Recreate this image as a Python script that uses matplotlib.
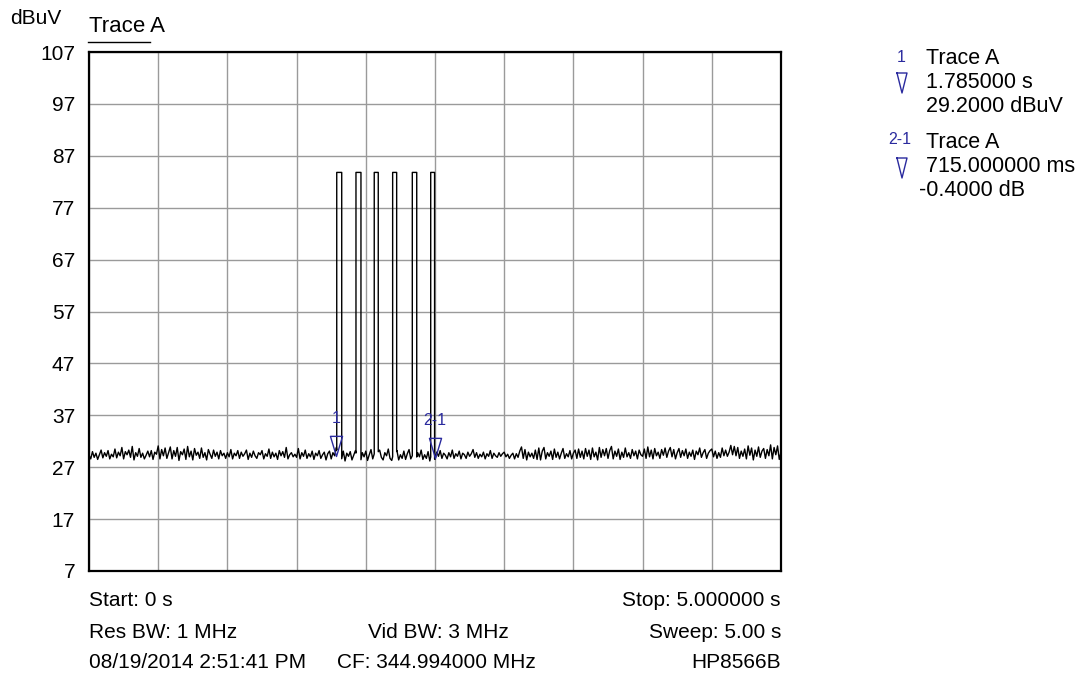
import numpy as np
import matplotlib
matplotlib.use("Agg")
import matplotlib.pyplot as plt
from matplotlib.lines import Line2D
from matplotlib.path import Path

plt.rcParams['font.family'] = ['Liberation Sans', 'DejaVu Sans']

# ---------------- data ----------------
t_start, t_stop = 0.0, 5.0
y_ticks = [107, 97, 87, 77, 67, 57, 47, 37, 27, 17, 7]
x_divs = [0.5 * i for i in range(11)]

# noise floor (dBuV), sampled uniformly across the sweep
noise = [
    29.3, 28.6, 30.0, 28.9, 29.7, 28.5, 29.4, 30.3, 28.8, 29.8, 29.1, 30.2, 28.6, 29.5, 29.0, 30.5, 28.8, 29.9, 29.2, 30.8,
    28.6, 30.0, 29.4, 30.3, 28.9, 31.0, 28.4, 29.8, 29.1, 30.6, 28.9, 29.7, 28.6, 29.3, 30.1, 29.0, 30.2, 28.5, 29.9, 29.5,
    31.1, 28.6, 30.4, 29.2, 30.7, 28.7, 29.8, 30.9, 28.6, 30.2, 29.1, 30.8, 28.3, 30.0, 29.4, 30.5, 28.5, 31.0, 29.0, 30.1,
    28.4, 30.6, 29.3, 29.9, 28.7, 30.7, 28.9, 29.8, 28.4, 30.4, 29.5, 28.7, 30.3, 29.1, 29.9, 28.6, 30.2, 29.2, 29.7, 28.7,
    29.8, 29.0, 30.4, 28.6, 29.7, 29.2, 30.2, 28.7, 29.9, 29.1, 29.6, 30.3, 28.5, 29.7, 28.9, 30.1, 29.2, 28.7, 29.8, 29.4,
    30.2, 28.6, 29.6, 29.1, 30.5, 28.7, 29.9, 29.0, 29.7, 28.5, 30.2, 29.2, 30.0, 28.9, 30.8, 28.6, 29.4, 29.8, 29.0, 29.5,
    28.9, 30.6, 28.6, 29.8, 29.1, 30.3, 28.7, 29.6, 29.0, 30.1, 28.5, 29.7, 29.2, 30.2, 28.7, 29.4, 29.9, 28.4, 29.6, 30.1,
    28.6, 29.8, 29.2, 30.8, 28.3, 29.9, 28.5, 30.1, 28.2, 29.7, 29.1, 30.0, 28.4, 29.3, 30.2, 28.7, 29.6, 28.1, 29.8, 29.0,
    30.1, 28.3, 29.4, 30.4, 28.6, 29.7, 28.2, 29.9, 30.3, 28.9, 28.4, 29.8, 29.2, 30.5, 28.7, 28.3, 29.7, 29.1, 30.2, 28.4,
    29.4, 28.7, 30.1, 28.5, 29.6, 30.4, 28.6, 29.3, 30.1, 28.3, 29.8, 29.0, 30.3, 28.5, 29.4, 28.7, 30.0, 28.2, 29.7, 28.9,
    28.5, 29.9, 29.1, 30.2, 28.7, 29.7, 29.3, 28.6, 29.8, 29.0, 30.3, 28.7, 29.6, 29.1, 30.1, 28.6, 29.7, 29.4, 28.7, 29.9,
    29.1, 29.6, 30.4, 28.9, 29.8, 28.7, 29.5, 29.0, 29.9, 28.6, 29.6, 29.1, 30.2, 28.7, 29.7, 29.2, 28.9, 29.8, 29.1, 29.6,
    29.9, 29.0, 29.5, 28.7, 29.3, 29.7, 28.6, 29.6, 28.9, 30.1, 30.9, 28.7, 30.4, 28.4, 29.9, 29.0, 29.7, 28.7, 30.3, 28.5,
    30.7, 28.4, 30.1, 30.8, 28.6, 29.8, 29.1, 30.1, 28.5, 30.5, 28.9, 29.9, 28.6, 29.7, 30.6, 28.7, 29.6, 29.0, 30.2, 28.6,
    29.7, 30.3, 28.7, 30.5, 28.9, 30.1, 28.6, 30.6, 29.1, 30.3, 28.5, 30.7, 29.0, 29.9, 28.4, 30.8, 28.9, 30.4, 29.2, 30.6,
    28.7, 30.2, 31.0, 28.6, 30.1, 29.1, 30.5, 28.5, 29.9, 28.9, 30.7, 29.0, 29.8, 28.7, 30.4, 29.2, 30.1, 28.6, 30.3, 29.4,
    29.1, 30.5, 28.7, 30.9, 29.0, 30.3, 28.6, 30.6, 29.2, 29.9, 28.7, 30.4, 29.3, 30.7, 28.9, 30.1, 30.8, 29.0, 30.4, 28.6,
    29.8, 30.6, 28.9, 30.2, 29.2, 30.5, 28.7, 29.9, 29.1, 30.3, 28.5, 30.1, 29.4, 30.7, 28.9, 29.8, 30.4, 28.7, 29.7, 30.2,
    30.5, 29.0, 30.1, 28.7, 29.8, 28.9, 30.7, 29.2, 30.3, 29.1, 29.9, 31.2, 29.4, 31.0, 29.2, 30.8, 28.7, 30.1, 29.1, 30.5,
    28.6, 31.1, 29.3, 30.7, 28.4, 30.3, 29.1, 30.9, 28.9, 30.1, 30.6, 28.7, 30.4, 29.2, 31.3, 28.6, 30.8, 29.4, 31.1, 28.5,
    29.9,
]

# burst pulses (start, end in seconds) and their level
pulse_start = [1.790, 1.929, 2.061, 2.194, 2.336, 2.469]
pulse_end = [1.826, 1.965, 2.090, 2.223, 2.368, 2.497]
pulse_level = 83.8

# markers
marker_labels = ["1", "2-1"]
marker_t = [1.785, 2.500]
marker_y = [29.2, 28.8]

# ---------------- build trace ----------------
nt = np.linspace(t_start, t_stop, len(noise))
nv = np.array(noise)
pts = []
for t, v in zip(nt, nv):
    inside = any(s <= t <= e for s, e in zip(pulse_start, pulse_end))
    if not inside:
        pts.append((t, v))
for s, e in zip(pulse_start, pulse_end):
    pts.append((s - 1e-6, float(np.interp(s, nt, nv))))
    pts.append((s, pulse_level))
    pts.append((e, pulse_level))
    pts.append((e + 1e-6, float(np.interp(e, nt, nv))))
pts.sort(key=lambda p: p[0])
tx = [p[0] for p in pts]
ty = [p[1] for p in pts]

# ---------------- figure ----------------
FS = 15
fig = plt.figure(figsize=(10.8, 6.75), dpi=100)
ax = fig.add_axes([89 / 1080, 1 - 571 / 675, 692 / 1080, 519 / 675])
ax.set_xlim(t_start, t_stop)
ax.set_ylim(y_ticks[-1], y_ticks[0])
ax.set_yticks(y_ticks)
ax.set_yticklabels([str(v) for v in y_ticks], fontsize=FS)
ax.set_xticks(x_divs)
ax.set_xticklabels([])
ax.tick_params(length=0, pad=10)
ax.grid(True, color='#9a9a9a', linewidth=1.0)
for sp in ax.spines.values():
    sp.set_linewidth(1.6)
    sp.set_color('black')

ax.plot(tx, ty, color='black', linewidth=1.0, solid_joinstyle='round')

blue = '#2a2a9e'
tri = Path([(-0.3, 1.0), (0.3, 1.0), (0.0, 0.0), (-0.3, 1.0)],
           [Path.MOVETO, Path.LINETO, Path.LINETO, Path.CLOSEPOLY])
for lab, mt, my in zip(marker_labels, marker_t, marker_y):
    ax.plot([mt], [my], marker=tri, markersize=29, markerfacecolor='none',
            markeredgecolor=blue, markeredgewidth=1.0, linestyle='none')
    ax.annotate(lab, (mt, my), xytext=(0, 27), textcoords='offset points',
                ha='center', va='center', color=blue, fontsize=11.5)

# ---------------- texts ----------------
def ftxt(x, y, s, **kw):
    kw.setdefault('fontsize', FS)
    fig.text(x / 1080, 1 - y / 675, s, va='center', **kw)

ftxt(10, 19, "dBuV", ha='left')
ftxt(89, 27, "Trace A", ha='left', fontsize=16)
fig.add_artist(Line2D([88 / 1080, 150 / 1080], [1 - 42 / 675, 1 - 42 / 675],
                      color='black', linewidth=1.0))

ftxt(89, 600, "Start: 0 s", ha='left')
ftxt(781, 600, "Stop: 5.000000 s", ha='right')
ftxt(89, 632, "Res BW: 1 MHz", ha='left')
ftxt(438, 632, "Vid BW: 3 MHz", ha='center')
ftxt(781, 632, "Sweep: 5.00 s", ha='right')
ftxt(89, 662, "08/19/2014 2:51:41 PM", ha='left')
ftxt(337, 662, "CF: 344.994000 MHz", ha='left')
ftxt(781, 662, "HP8566B", ha='right')

# marker readout panel
LF = 15.5
ftxt(901, 57, "1", ha='center', color=blue, fontsize=11.5)
ftxt(926, 59, "Trace A", ha='left', fontsize=LF)
ftxt(926, 83, "1.785000 s", ha='left', fontsize=LF)
ftxt(926, 107, "29.2000 dBuV", ha='left', fontsize=LF)
ftxt(900, 140, "2-1", ha='center', color=blue, fontsize=11.5)
ftxt(926, 143, "Trace A", ha='left', fontsize=LF)
ftxt(926, 167, "715.000000 ms", ha='left', fontsize=LF)
ftxt(919, 191, "-0.4000 dB", ha='left', fontsize=LF)
for top in (73, 158):
    xs = np.array([897, 907, 902, 897]) / 1080
    ys = 1 - np.array([top, top, top + 20, top]) / 675
    fig.add_artist(Line2D(xs, ys, color=blue, linewidth=1.0))

fig.savefig("out.png", dpi=100)
